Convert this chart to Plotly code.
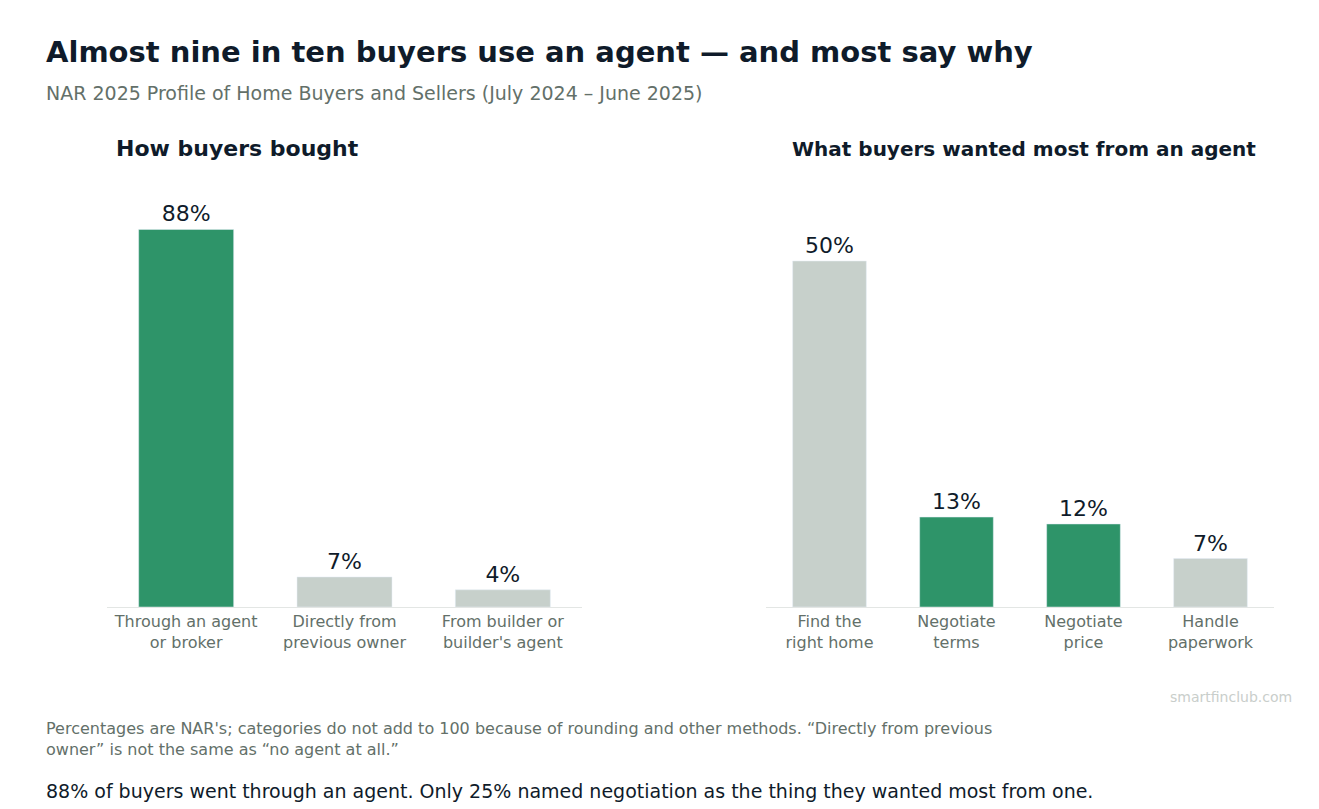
import plotly.graph_objects as go

how_cats = ["Through an agent<br>or broker", "Directly from<br>previous owner", "From builder or<br>builder's agent"]
how_vals = [88, 7, 4]
how_cols = ["#2e9469", "#c7d0cb", "#c7d0cb"]

want_cats = ["Find the<br>right home", "Negotiate<br>terms", "Negotiate<br>price", "Handle<br>paperwork"]
want_vals = [50, 13, 12, 7]
want_cols = ["#c7d0cb", "#2e9469", "#2e9469", "#c7d0cb"]

dark = "#0f1b2a"
grey = "#637069"
W, H = 1319, 809
top, bottom = 170, 599

def py(pix):
    return (bottom - pix) / (bottom - top)

fig = go.Figure()
fig.add_trace(go.Bar(x=how_cats, y=how_vals, marker_color=how_cols, width=0.6,
                     text=[f"{v}%" for v in how_vals], textposition="outside",
                     textfont=dict(size=22, color=dark, family="DejaVu Sans"),
                     cliponaxis=False, xaxis="x", yaxis="y"))
fig.add_trace(go.Bar(x=want_cats, y=want_vals, marker_color=want_cols, width=0.58,
                     text=[f"{v}%" for v in want_vals], textposition="outside",
                     textfont=dict(size=22, color=dark, family="DejaVu Sans"),
                     cliponaxis=False, xaxis="x2", yaxis="y2"))

ax = dict(showgrid=False, showline=True, linecolor="#e3e6e4", linewidth=1,
          tickfont=dict(size=16, color=grey), ticks="", fixedrange=True)
fig.update_layout(
    width=W, height=H, showlegend=False,
    margin=dict(l=0, r=0, t=top, b=H - bottom),
    plot_bgcolor="white", paper_bgcolor="white",
    font=dict(family="DejaVu Sans"),
    xaxis=dict(domain=[99 / W, 574 / W], **ax),
    xaxis2=dict(domain=[758 / W, 1266 / W], **ax),
    yaxis=dict(range=[0, 100], visible=False),
    yaxis2=dict(range=[0, 62], visible=False, anchor="x2"),
)

def note(text, x, y, size, color, bold=False, xanchor="left", yanchor="middle"):
    fig.add_annotation(text=f"<b>{text}</b>" if bold else text, x=x, y=y,
                       xref="paper", yref="paper", showarrow=False, xanchor=xanchor,
                       yanchor=yanchor, align="left", font=dict(size=size, color=color))

note("Almost nine in ten buyers use an agent — and most say why", 36 / W, py(44), 29, dark, True)
note("NAR 2025 Profile of Home Buyers and Sellers (July 2024 – June 2025)", 36 / W, py(85), 19, grey)
note("How buyers bought", 229 / W, py(141), 22, dark, True, "center")
note("What buyers wanted most from an agent", 1016 / W, py(141), 20, dark, True, "center")
note("smartfinclub.com", 1286 / W, py(689), 14, "#c9cecb", xanchor="right")
note("Percentages are NAR's; categories do not add to 100 because of rounding and other methods. “Directly from previous<br>owner” is not the same as “no agent at all.”",
     36 / W, py(709), 16, grey, yanchor="top")
note("88% of buyers went through an agent. Only 25% named negotiation as the thing they wanted most from one.",
     36 / W, py(783), 19, dark)

fig.write_html("out.html")
